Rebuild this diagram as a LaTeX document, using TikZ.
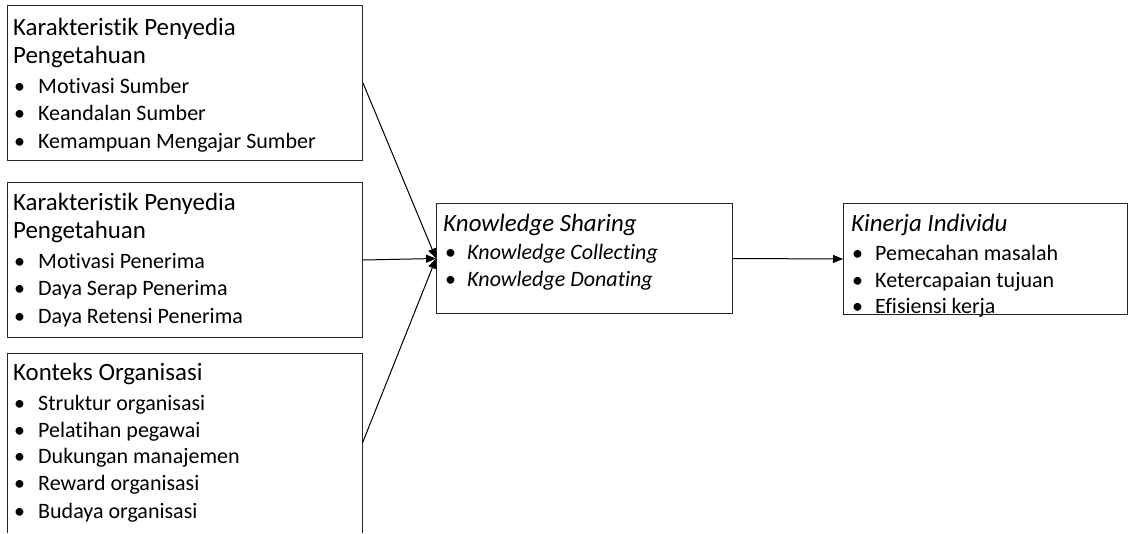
\documentclass[tikz,border=0pt]{standalone}
\usepackage{fontspec}
\setmainfont{Carlito}[Ligatures=NoCommon]
\usetikzlibrary{arrows.meta}
\tikzset{
  box/.style={draw=black!85, line width=1pt, anchor=north west, inner sep=0pt},
  openbox/.style={anchor=north west, inner sep=0pt},
  ttl/.style={anchor=base west, inner sep=0pt, font=\fontsize{24.9}{28}\selectfont},
  itm/.style={anchor=base west, inner sep=0pt, font=\fontsize{22}{27}\selectfont},
  conn/.style={draw=black, line width=1pt, -{Triangle[length=10pt,width=8pt]}},
}
\begin{document}
\begin{tikzpicture}[x=1pt,y=-1pt]
\useasboundingbox (0,0) rectangle (1130,533);
\clip (0,0) rectangle (1130,533);
% boxes
\node[box, minimum width=355pt, minimum height=155pt] (b1) at (7,5) {};
\node[box, minimum width=355pt, minimum height=155pt] (b2) at (7,182) {};
\node[openbox, minimum width=355pt, minimum height=180pt] (b3) at (7,353) {};
\draw[draw=black!85, line width=1pt] (b3.south west) -- (b3.north west) -- (b3.north east) -- (b3.south east);
\node[box, minimum width=296pt, minimum height=110pt] (ks) at (436,203) {};
\node[box, minimum width=284pt, minimum height=111pt] (ki) at (843,203) {};
% box 1 text
\node[ttl] (b1t1) at (13,35) {Karakteristik Penyedia};
\node[ttl] (b1t2) at (13,63) {Pengetahuan};
\node[itm] (b1d1) at (14,93) {•};  \node[itm] (b1i1) at (38,93) {Motivasi Sumber};
\node[itm] (b1d2) at (14,120) {•}; \node[itm] (b1i2) at (38,120) {Keandalan Sumber};
\node[itm] (b1d3) at (14,148) {•}; \node[itm] (b1i3) at (38,148) {Kemampuan Mengajar Sumber};
% box 2 text
\node[ttl] (b2t1) at (13,210) {Karakteristik Penyedia};
\node[ttl] (b2t2) at (13,238) {Pengetahuan};
\node[itm] (b2d1) at (14,268) {•}; \node[itm] (b2i1) at (38,268) {Motivasi Penerima};
\node[itm] (b2d2) at (14,295) {•}; \node[itm] (b2i2) at (38,295) {Daya Serap Penerima};
\node[itm] (b2d3) at (14,323) {•}; \node[itm] (b2i3) at (38,323) {Daya Retensi Penerima};
% box 3 text
\node[ttl] (b3t1) at (13,380) {Konteks Organisasi};
\node[itm] (b3d1) at (14,410) {•}; \node[itm] (b3i1) at (38,410) {Struktur organisasi};
\node[itm] (b3d2) at (14,437) {•}; \node[itm] (b3i2) at (38,437) {Pelatihan pegawai};
\node[itm] (b3d3) at (14,463) {•}; \node[itm] (b3i3) at (38,463) {Dukungan manajemen};
\node[itm] (b3d4) at (14,490) {•}; \node[itm] (b3i4) at (38,490) {Reward organisasi};
\node[itm] (b3d5) at (14,518) {•}; \node[itm] (b3i5) at (38,518) {Budaya organisasi};
% knowledge sharing
\node[ttl] (kst) at (443,231) {\itshape Knowledge Sharing};
\node[itm] (ksd1) at (445,259) {•}; \node[itm] (ksi1) at (467,259) {\itshape Knowledge Collecting};
\node[itm] (ksd2) at (445,286) {•}; \node[itm] (ksi2) at (467,286) {\itshape Knowledge Donating};
% kinerja individu
\node[ttl] (kit) at (851,231) {\itshape Kinerja Individu};
\node[itm] (kid1) at (852,260) {•}; \node[itm] (kii1) at (875,260) {Pemecahan masalah};
\node[itm] (kid2) at (852,287) {•}; \node[itm] (kii2) at (875,287) {Ketercapaian tujuan};
\node[itm] (kid3) at (852,313) {•}; \node[itm] (kii3) at (875,313) {Efisiensi kerja};
% connectors
\draw[conn] (b1.east) -- (ks.west);
\draw[conn] (b2.east) -- (ks.west);
\draw[conn] (b3.east) -- (ks.west);
\draw[conn] (ks.east) -- (ki.west);
\end{tikzpicture}
\end{document}
